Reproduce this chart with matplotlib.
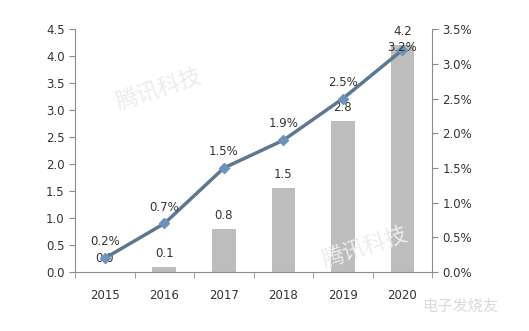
import matplotlib
matplotlib.use("Agg")
import matplotlib.pyplot as plt
import numpy as np

years = ["2015", "2016", "2017", "2018", "2019", "2020"]
bar_values = [0.0, 0.1, 0.8, 1.55, 2.8, 4.2]
bar_labels = ["0.0", "0.1", "0.8", "1.5", "2.8", "4.2"]
pct_values = [0.2, 0.7, 1.5, 1.9, 2.5, 3.2]
pct_labels = ["0.2%", "0.7%", "1.5%", "1.9%", "2.5%", "3.2%"]
left_ticks = [0.0, 0.5, 1.0, 1.5, 2.0, 2.5, 3.0, 3.5, 4.0, 4.5]
right_ticks = [0.0, 0.5, 1.0, 1.5, 2.0, 2.5, 3.0, 3.5]

plt.rcParams['font.family'] = ['DejaVu Sans', 'Noto Sans CJK SC']
fig = plt.figure(figsize=(5.29, 3.31), dpi=100)
ax = fig.add_axes([0.142, 0.178, 0.675, 0.734])
x = np.arange(len(years))
txt = "#333333"
axc = "#8c8c8c"

# faint watermarks
fig.text(0.30, 0.73, "腾讯科技", fontsize=16, color="#ececec", rotation=18,
         family=['Noto Sans CJK SC'], ha='center', va='center', zorder=0)
fig.text(0.69, 0.25, "腾讯科技", fontsize=16, color="#ececec", rotation=18,
         family=['Noto Sans CJK SC'], ha='center', va='center', zorder=0)
fig.text(0.87, 0.075, "电子发烧友", fontsize=11, color="#d9d9d9",
         family=['Noto Sans CJK SC'], ha='center', va='center')
ax.patch.set_alpha(0)

ax.bar(x, bar_values, width=0.4, color="#bdbdbd", zorder=2)
ax.set_xlim(-0.5, 5.5)
ax.set_ylim(0, 4.5)
ax.set_yticks(left_ticks)
ax.set_yticklabels([f"{v:.1f}" for v in left_ticks], fontsize=8.5, color=txt)
ax.set_xticks(x)
ax.set_xticklabels(years, fontsize=8.5, color=txt)
ax.set_xticks(np.arange(-0.5, 6.0, 1.0), minor=True)
ax.tick_params(axis='x', which='major', length=0, pad=12)
ax.tick_params(axis='x', which='minor', length=4, color=axc, direction='out')
ax.tick_params(axis='y', length=4, color=axc, direction='out')
for s in ['top', 'right']:
    ax.spines[s].set_visible(False)
for s in ['left', 'bottom']:
    ax.spines[s].set_color(axc)

for xi, v, lab in zip(x, bar_values, bar_labels):
    ax.annotate(lab, (xi, v), xytext=(0, 5), textcoords='offset points',
                ha='center', va='bottom', fontsize=8.5, color=txt, zorder=5)

ax2 = ax.twinx()
ax2.set_ylim(0, 3.5)
ax2.plot(x, pct_values, color="#5d7891", lw=2.5, marker='D', markersize=5,
         markerfacecolor="#6d93ba", markeredgecolor="#6d93ba", zorder=4)
ax2.set_yticks(right_ticks)
ax2.set_yticklabels([f"{v:.1f}%" for v in right_ticks], fontsize=8.5, color=txt)
ax2.tick_params(axis='y', length=4, color=axc, direction='out')
for s in ['top', 'left', 'bottom']:
    ax2.spines[s].set_visible(False)
ax2.spines['right'].set_color(axc)
n = len(pct_values)
for i, (xi, v, lab) in enumerate(zip(x, pct_values, pct_labels)):
    if i == n - 1:
        off, va = (0, 2), 'center'
    else:
        off, va = (0, 7), 'bottom'
    ax2.annotate(lab, (xi, v), xytext=off, textcoords='offset points',
                 ha='center', va=va, fontsize=8.5, color=txt, zorder=5)

fig.savefig("out.png", dpi=100, facecolor="white")
